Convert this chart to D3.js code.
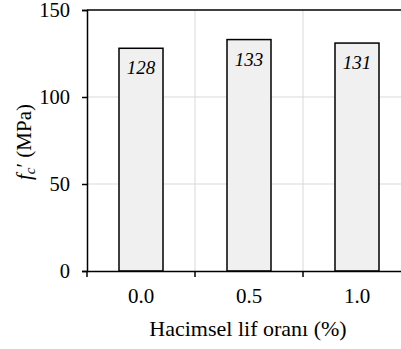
<!DOCTYPE html>
<html>
<head>
<meta charset="utf-8">
<script src="https://cdn.jsdelivr.net/npm/d3@7"></script>
</head>
<body style="margin:0;background:#fff">
<div id="chart"></div>
<script>
// chart data
const categories = ['0.0', '0.5', '1.0'];
const strengths = [128, 133, 131];
const yTicks = [0, 50, 100, 150];

const FONT = 'Liberation Serif';
const W = 401, H = 349;
const margin = { top: 10, right: -10, bottom: 78, left: 87 };
const width = W - margin.left - margin.right;
const height = H - margin.top - margin.bottom;

const svg = d3.select('#chart')
  .append('svg')
  .attr('width', W)
  .attr('height', H)
  .style('display', 'block')
  .append('g')
  .attr('transform', `translate(${margin.left},${margin.top})`);

const x = d3.scaleBand()
  .domain(categories)
  .range([0, width])
  .padding(0);

const y = d3.scaleLinear()
  .domain([0, 150])
  .range([height, 0]);

// gridlines
svg.append('g')
  .selectAll('line')
  .data(yTicks.filter(t => t > 0 && t < 150))
  .enter().append('line')
  .attr('x1', 0).attr('x2', width)
  .attr('y1', d => y(d)).attr('y2', d => y(d))
  .attr('stroke', '#d9d9d9').attr('stroke-width', 1);

svg.append('g')
  .selectAll('line')
  .data(categories.slice(1))
  .enter().append('line')
  .attr('x1', d => x(d)).attr('x2', d => x(d))
  .attr('y1', 0).attr('y2', height)
  .attr('stroke', '#d9d9d9').attr('stroke-width', 1);

// bars
const barW = 44;
svg.selectAll('.bar')
  .data(strengths)
  .enter().append('rect')
  .attr('class', 'bar')
  .attr('x', (d, i) => x(categories[i]) + x.bandwidth() / 2 - barW / 2)
  .attr('y', d => y(d))
  .attr('width', barW)
  .attr('height', d => height - y(d))
  .attr('fill', '#f0f0f0')
  .attr('stroke', '#000')
  .attr('stroke-width', 1.5);

// value labels
svg.selectAll('.val')
  .data(strengths)
  .enter().append('text')
  .attr('x', (d, i) => x(categories[i]) + x.bandwidth() / 2)
  .attr('y', d => y(d) + 26)
  .attr('text-anchor', 'middle')
  .attr('font-size', 19)
  .style('font-family', FONT)
  .style('font-style', 'italic')
  .attr('fill', '#000')
  .text(d => d);

// frame top
svg.append('line')
  .attr('x1', 0).attr('x2', width)
  .attr('y1', 0).attr('y2', 0)
  .attr('stroke', '#000').attr('stroke-width', 1.5);

// y axis
const yAxis = svg.append('g')
  .call(d3.axisLeft(y).tickValues(yTicks).tickSize(5).tickPadding(12));
yAxis.select('.domain').attr('stroke', '#000').attr('stroke-width', 1.5);
yAxis.selectAll('.tick line').attr('stroke', '#000').attr('stroke-width', 1.5);
yAxis.selectAll('text')
  .attr('font-size', 20.5)
  .style('font-family', FONT)
  .attr('fill', '#000');

// x axis: ticks at category boundaries
const xAxis = svg.append('g')
  .attr('transform', `translate(0,${height})`)
  .call(d3.axisBottom(x).tickSize(0).tickPadding(17));
xAxis.select('.domain').attr('stroke', '#000').attr('stroke-width', 1.5);
xAxis.selectAll('text')
  .attr('font-size', 21)
  .style('font-family', FONT)
  .attr('fill', '#000');
xAxis.selectAll('line.bnd')
  .data(categories)
  .enter().append('line')
  .attr('class', 'bnd')
  .attr('x1', d => x(d)).attr('x2', d => x(d))
  .attr('y1', 0).attr('y2', 6)
  .attr('stroke', '#000').attr('stroke-width', 1.5);

// axis titles
svg.append('text')
  .attr('x', 161)
  .attr('y', height + 65)
  .attr('text-anchor', 'middle')
  .attr('font-size', 22)
  .style('font-family', FONT)
  .attr('fill', '#000')
  .text('Hacimsel lif oranı (%)');

const yt = svg.append('text')
  .attr('transform', `translate(${31 - margin.left},${142 - margin.top}) rotate(-90)`)
  .attr('text-anchor', 'middle')
  .attr('font-size', 21)
  .style('font-family', FONT)
  .attr('fill', '#000');
yt.append('tspan').style('font-style', 'italic').text('f');
yt.append('tspan').style('font-style', 'italic').attr('font-size', 15).attr('dy', 4).text('c');
yt.append('tspan').attr('dy', -4).text('′ (MPa)');

// force text layout so the fonts are resolved before the snapshot
d3.selectAll('text').each(function () { this.getComputedTextLength(); });
</script>
</body>
</html>
